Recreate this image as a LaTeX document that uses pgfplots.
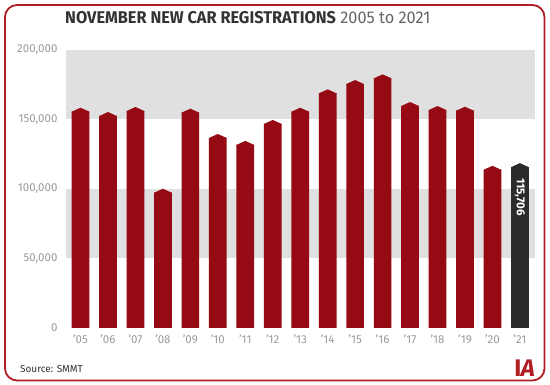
\documentclass[border=0pt]{standalone}
\usepackage{fontspec}
\setmainfont{Fira Sans}
\newfontfamily\condfont[FakeStretch=0.96]{Fira Sans}
\usepackage{pgfplots}
\usepackage{pgfplotstable}
\pgfplotsset{compat=1.18}
\definecolor{barred}{HTML}{960A14}
\definecolor{bardark}{HTML}{2B2B2B}
\definecolor{band}{HTML}{E0E0E0}
\definecolor{ticktext}{HTML}{9B9B9B}
\definecolor{framered}{HTML}{B01E24}
\definecolor{titlegray}{HTML}{333333}

\pgfplotstableread{
x val
0 155600
1 152500
2 156100
3 97300
4 154900
5 136700
6 131700
7 146800
8 155600
9 168800
10 175500
11 179600
12 159700
13 156800
14 156300
15 113800
}\redtable
\pgfplotstableread{
x val
16 115706
}\darktable

\pgfdeclareplotmark{roof}{%
  \pgfpathmoveto{\pgfqpoint{-8.85pt}{-0.6pt}}%
  \pgfpathlineto{\pgfqpoint{8.85pt}{-0.6pt}}%
  \pgfpathlineto{\pgfqpoint{8.85pt}{0pt}}%
  \pgfpathlineto{\pgfqpoint{0pt}{4pt}}%
  \pgfpathlineto{\pgfqpoint{-8.85pt}{0pt}}%
  \pgfpathclose
  \pgfusepathqfill}

\begin{document}
\begin{tikzpicture}
\path[use as bounding box] (0pt,0pt) rectangle (550pt,385pt);
\draw[framered, line width=1.8pt, rounded corners=12pt, fill=white] (5pt,4.5pt) rectangle (544.5pt,380pt);
\begin{axis}[
  at={(66pt,57pt)}, anchor=south west,
  scale only axis, width=469pt, height=278pt,
  xmin=-0.53, xmax=16.55, ymin=0, ymax=200000,
  axis line style={draw=none},
  major tick length=0pt,
  clip=false,
  ytick={0,50000,100000,150000,200000},
  scaled y ticks=false,
  yticklabel style={text=ticktext, font=\fontsize{11.5}{13}\selectfont, xshift=-5pt,
    /pgf/number format/.cd, fixed, 1000 sep={,}, assume math mode=true},
  xtick={0,...,16},
  xticklabels={'05,'06,'07,'08,'09,'10,'11,'12,'13,'14,'15,'16,'17,'18,'19,'20,'21},
  xticklabel style={text=ticktext, font=\fontsize{11.5}{13}\selectfont, yshift=-3pt},
]
\fill[band] (axis cs:-0.53,150000) rectangle (axis cs:16.55,200000);
\fill[band] (axis cs:-0.53,50000) rectangle (axis cs:16.55,100000);
\addplot[ybar, bar shift=0pt, bar width=17.7pt, fill=barred, draw=none] table[x=x,y=val]{\redtable};
\addplot[only marks, mark=roof, color=barred] table[x=x,y=val]{\redtable};
\addplot[ybar, bar shift=0pt, bar width=17.7pt, fill=bardark, draw=none] table[x=x,y=val]{\darktable};
\addplot[only marks, mark=roof, color=bardark] table[x=x,y=val]{\darktable};
\node[rotate=-90, anchor=west, inner sep=0pt, text=white, font=\bfseries\fontsize{11.5}{13}\selectfont] at (axis cs:16,108000) {115,706};
\end{axis}
\node[anchor=base west, inner sep=0pt, text=titlegray] at (65pt,361pt) {\condfont\fontsize{17}{20}\selectfont\textbf{NOVEMBER NEW CAR REGISTRATIONS} {\color{gray!80!black}2005 to 2021}};
\node[anchor=base west, inner sep=0pt, text=titlegray] at (20pt,12pt) {\fontsize{10}{12}\selectfont Source: SMMT};
\node[anchor=south east, inner sep=0pt, text=framered] at (535pt,8pt) {\bfseries\fontsize{24}{24}\selectfont I\kern-0.5pt\textsl{A}};
\end{tikzpicture}
\end{document}
